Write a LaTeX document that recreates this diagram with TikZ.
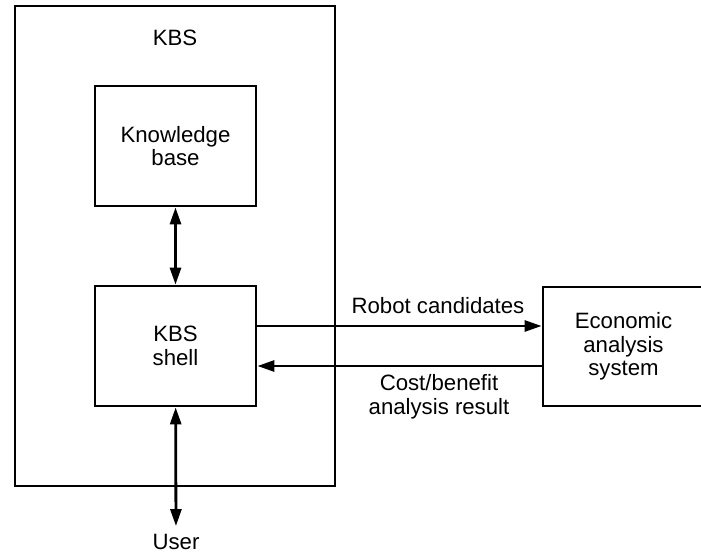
\documentclass[tikz,border=0pt]{standalone}
\usepackage{fontspec}
\setmainfont{Liberation Sans}
\usetikzlibrary{arrows.meta, positioning}

\begin{document}
\begin{tikzpicture}[x=1pt, y=-1pt,
  box/.style={rectangle, draw, line width=2.8pt, minimum width=161pt,
    minimum height=120pt, align=center, inner sep=0pt},
  arrow/.style={-{Triangle[length=17pt, width=11pt]}, line width=2.8pt},
  dblarrow/.style={{Triangle[length=17pt, width=11pt]}-{Triangle[length=17pt, width=11pt]}, line width=2.8pt},
  every node/.style={font=\fontsize{22.2}{23.5}\selectfont},
]
\useasboundingbox (0,0) rectangle (701,554);

% KBS
\node[box, minimum width=320pt, minimum height=480pt] (kbs) at (175,246) {};
\node (kbstitle) at (175,38) {KBS};

% Knowledge base and shell
\node[box] (kb) at (175.5,146) {Knowledge\\base};
\node[box] (shell) at (175.5,346) {KBS\\shell};

% Economic analysis
\node[box, minimum height=119pt] (econ) at (623.5,346.5) {Economic\\analysis\\system};

% User
\node[inner sep=8pt] (user) at (176,542) {User};

% Arrows
\coordinate (out) at ([yshift=20pt]shell.east);
\coordinate (back) at ([yshift=-20pt]shell.east);
\draw[dblarrow] (kb) -- (shell);
\draw[dblarrow] (shell) -- (user);
\draw[arrow] (out) -- (out -| econ.west);
\draw[arrow] (back -| econ.west) -- (back);

% Labels
\node (robot) at (438,306) {Robot candidates};
\node[align=center] (cost) at (439,397) {Cost/benefit\\analysis result};

\end{tikzpicture}
\end{document}
